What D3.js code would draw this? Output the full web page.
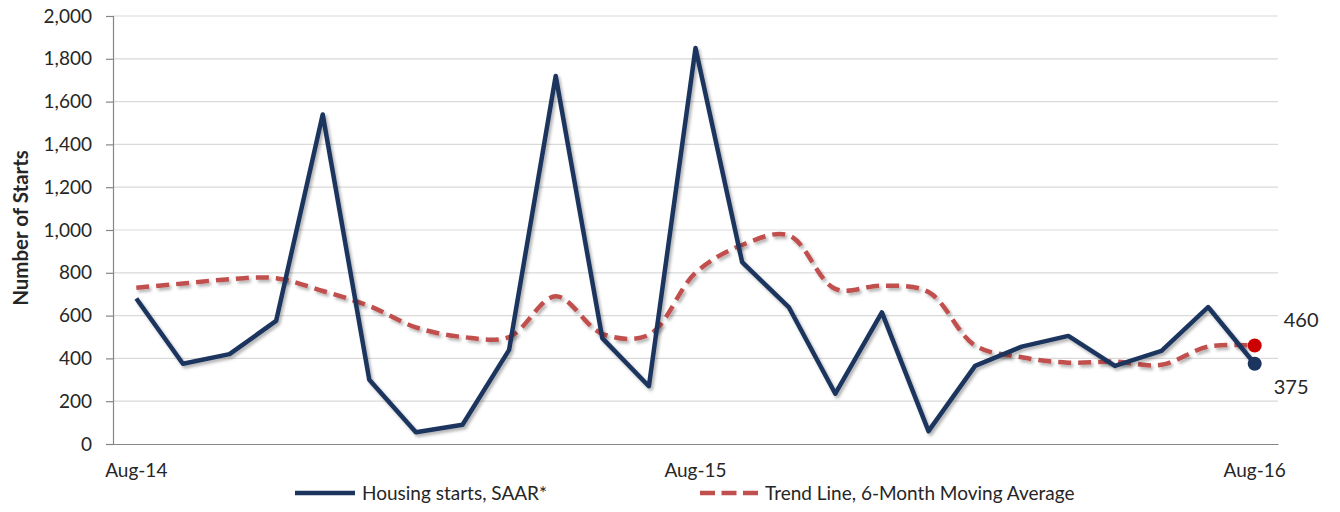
<!DOCTYPE html>
<html>
<head>
<meta charset="utf-8">
<script src="https://cdn.jsdelivr.net/npm/d3@7"></script>
<style>
  body { margin: 0; background: #fff; }
  text { font-family: Lato, 'Open Sans', sans-serif; fill: #262626; }
</style>
</head>
<body>
<svg id="chart" width="1340" height="512"></svg>
<script>
// Monthly labels, Aug-14 .. Aug-16
var months = ['Aug-14','Sep-14','Oct-14','Nov-14','Dec-14','Jan-15','Feb-15','Mar-15','Apr-15',
  'May-15','Jun-15','Jul-15','Aug-15','Sep-15','Oct-15','Nov-15','Dec-15','Jan-16','Feb-16',
  'Mar-16','Apr-16','May-16','Jun-16','Jul-16','Aug-16'];
var starts = [680, 375, 420, 575, 1540, 300, 55, 90, 440, 1720, 495, 270, 1850, 850, 640, 235,
  615, 60, 365, 455, 505, 365, 435, 640, 375];
var trend = [730, 750, 770, 775, 715, 645, 545, 500, 500, 690, 515, 510, 800, 930, 975, 725,
  740, 710, 460, 405, 380, 385, 370, 455, 460];
var xTickLabels = ['Aug-14', 'Aug-15', 'Aug-16'];
var yTicks = [0, 200, 400, 600, 800, 1000, 1200, 1400, 1600, 1800, 2000];

var svg = d3.select('#chart'),
  plotLeft = 113, plotRight = 1278, plotTop = 16, plotBottom = 444,
  fontSize = '19px';

var x = d3.scaleBand()
  .domain(months)
  .range([plotLeft, plotRight]);
var xc = function(m) { return x(m) + x.bandwidth() / 2; };

var y = d3.scaleLinear()
  .domain([0, 2000])
  .range([plotBottom, plotTop]);

// drop shadow like the excel lines
var defs = svg.append('defs');
var f = defs.append('filter').attr('id', 'shadow')
  .attr('x', '-5%').attr('y', '-5%').attr('width', '110%').attr('height', '115%');
f.append('feDropShadow')
  .attr('dx', 2).attr('dy', 2.5).attr('stdDeviation', 1.6)
  .attr('flood-color', '#000').attr('flood-opacity', 0.3);

// gridlines
svg.append('g')
  .selectAll('line')
  .data(yTicks.slice(1))
  .enter()
  .append('line')
  .attr('x1', plotLeft).attr('x2', plotRight)
  .attr('y1', function(d) { return y(d); })
  .attr('y2', function(d) { return y(d); })
  .attr('stroke', '#d9d9d9')
  .attr('stroke-width', 1.2);

// y axis
var yAxis = svg.append('g')
  .attr('transform', 'translate(' + plotLeft + ',0)')
  .call(d3.axisLeft(y).tickValues(yTicks).tickSize(7).tickPadding(14).tickFormat(d3.format(',')));
yAxis.select('.domain').attr('stroke', '#868686').attr('stroke-width', 1.2);
yAxis.selectAll('.tick line').attr('stroke', '#868686').attr('stroke-width', 1.2);
yAxis.selectAll('.tick text')
  .style('font-family', 'Lato, sans-serif')
  .style('font-size', fontSize)
  .attr('fill', '#262626');

// x axis (baseline only)
var xAxis = svg.append('g')
  .attr('transform', 'translate(0,' + plotBottom + ')')
  .call(d3.axisBottom(x).tickValues(xTickLabels).tickSize(0).tickPadding(20));
xAxis.select('.domain').attr('stroke', '#868686').attr('stroke-width', 1.2);
xAxis.selectAll('.tick text')
  .style('font-family', 'Lato, sans-serif')
  .style('font-size', fontSize)
  .attr('fill', '#262626');

// y axis title
svg.append('text')
  .attr('transform', 'translate(28,228) rotate(-90)')
  .attr('text-anchor', 'middle')
  .style('font-size', '20.5px')
  .style('font-weight', 'bold')
  .attr('fill', '#000')
  .text('Number of Starts');

// trend line (smoothed, dashed)
var trendLine = d3.line()
  .x(function(d, i) { return xc(months[i]); })
  .y(function(d) { return y(d); })
  .curve(d3.curveCatmullRom.alpha(0.5));

svg.append('path')
  .datum(trend)
  .attr('d', trendLine)
  .attr('fill', 'none')
  .attr('stroke', '#c0504d')
  .attr('stroke-width', 4.5)
  .attr('stroke-dasharray', '13,7')
  .attr('filter', 'url(#shadow)');

// housing starts
var startLine = d3.line()
  .x(function(d, i) { return xc(months[i]); })
  .y(function(d) { return y(d); });

svg.append('path')
  .datum(starts)
  .attr('d', startLine)
  .attr('fill', 'none')
  .attr('stroke', '#1c355e')
  .attr('stroke-width', 4.5)
  .attr('stroke-linejoin', 'round')
  .attr('filter', 'url(#shadow)');

// end markers + labels
var last = months.length - 1;
svg.append('circle')
  .attr('cx', xc(months[last])).attr('cy', y(trend[last]))
  .attr('r', 7).attr('fill', '#cc0000');
svg.append('circle')
  .attr('cx', xc(months[last])).attr('cy', y(starts[last]))
  .attr('r', 7).attr('fill', '#1c355e');

svg.append('text')
  .attr('x', xc(months[last]) + 29).attr('y', y(trend[last]) - 19)
  .style('font-size', '20px')
  .text(trend[last]);
svg.append('text')
  .attr('x', xc(months[last]) + 19).attr('y', y(starts[last]) + 30)
  .style('font-size', '20px')
  .text(starts[last]);

// legend
var legend = svg.append('g').attr('transform', 'translate(0,493)');
legend.append('line')
  .attr('x1', 295).attr('x2', 355).attr('y1', 0).attr('y2', 0)
  .attr('stroke', '#1c355e').attr('stroke-width', 4.5);
legend.append('text')
  .attr('x', 362).attr('y', 6.5)
  .style('font-size', fontSize)
  .text('Housing starts, SAAR*');
legend.append('line')
  .attr('x1', 700).attr('x2', 758).attr('y1', 0).attr('y2', 0)
  .attr('stroke', '#c0504d').attr('stroke-width', 4.5)
  .attr('stroke-dasharray', '15,6.5');
legend.append('text')
  .attr('x', 765).attr('y', 6.5)
  .style('font-size', fontSize)
  .text('Trend Line, 6-Month Moving Average');
</script>
</body>
</html>
